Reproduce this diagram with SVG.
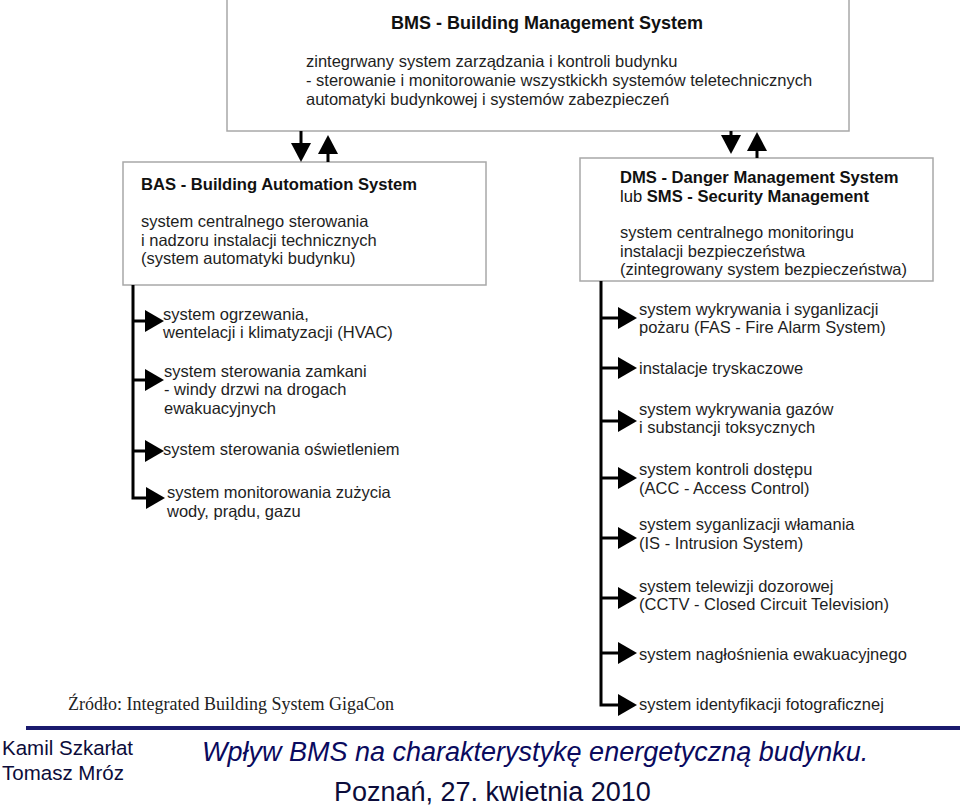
<svg xmlns="http://www.w3.org/2000/svg" width="960" height="807" viewBox="0 0 960 807">
<defs>
<style>
.box{fill:#fff;stroke:#a8a8a8;stroke-width:1.5}
.t{font-family:"Liberation Sans",Arial,sans-serif;font-size:16.5px;fill:#1e1e1e}
.b{font-family:"Liberation Sans",Arial,sans-serif;font-size:16.6px;font-weight:bold;fill:#111}
.c{fill:none;stroke:#000;stroke-width:3}
</style>
<marker id="h" markerUnits="userSpaceOnUse" markerWidth="19" markerHeight="22" refX="0" refY="11" orient="auto" viewBox="0 0 19 22">
<path d="M0,0 L19,11 L0,22 z" fill="#000"/>
</marker>
<marker id="v" markerUnits="userSpaceOnUse" markerWidth="19" markerHeight="20" refX="0" refY="10" orient="auto" viewBox="0 0 19 20">
<path d="M0,0 L19,10 L0,20 z" fill="#000"/>
</marker>
</defs>
<rect width="960" height="807" fill="#fff"/>

<g id="bms">
<rect class="box" x="227" y="-1" width="622" height="132"/>
<text class="b" x="547" y="29" text-anchor="middle" style="font-size:18px">BMS - Building Management System</text>
<text class="t" x="306" y="67">zintegrwany system zarządzania i kontroli budynku</text>
<text class="t" x="306" y="86">- sterowanie i monitorowanie wszystkickh systemów teletechnicznych</text>
<text class="t" x="306" y="105">automatyki budynkowej i systemów zabezpieczeń</text>
</g>

<g id="bas">
<rect class="box" x="123" y="162" width="363" height="123"/>
<text class="b" x="141" y="190">BAS - Building Automation System</text>
<text class="t" x="141" y="227">system centralnego sterowania</text>
<text class="t" x="141" y="246">i nadzoru instalacji technicznych</text>
<text class="t" x="141" y="264">(system automatyki budynku)</text>
</g>

<g id="dms">
<rect class="box" x="580" y="158" width="353" height="123"/>
<text class="b" x="620" y="183">DMS - Danger Management System</text>
<text class="b" x="620" y="202"><tspan style="font-weight:normal">lub </tspan>SMS - Security Management</text>
<text class="t" x="620" y="238">system centralnego monitoringu</text>
<text class="t" x="620" y="257">instalacji bezpieczeństwa</text>
<text class="t" x="620" y="275">(zintegrowany system bezpieczeństwa)</text>
</g>

<g id="connectors">
<path class="c" d="M301,131 V143" marker-end="url(#v)"/>
<path class="c" d="M328,162 V154" marker-end="url(#v)"/>
<path class="c" d="M731,131 V135" marker-end="url(#v)"/>
<path class="c" d="M757,158 V151" marker-end="url(#v)"/>

<path class="c" d="M133,285 V498 H146" marker-end="url(#h)"/>
<path class="c" d="M133,321 H145" marker-end="url(#h)"/>
<path class="c" d="M133,380 H145" marker-end="url(#h)"/>
<path class="c" d="M133,451 H145" marker-end="url(#h)"/>

<path class="c" d="M601,281 V705 H618" marker-end="url(#h)"/>
<path class="c" d="M601,318 H618" marker-end="url(#h)"/>
<path class="c" d="M601,368 H618" marker-end="url(#h)"/>
<path class="c" d="M601,421 H618" marker-end="url(#h)"/>
<path class="c" d="M601,478 H618" marker-end="url(#h)"/>
<path class="c" d="M601,538 H618" marker-end="url(#h)"/>
<path class="c" d="M601,598 H618" marker-end="url(#h)"/>
<path class="c" d="M601,653 H618" marker-end="url(#h)"/>
</g>

<g id="bas-items">
<text class="t" x="163" y="320">system ogrzewania,</text>
<text class="t" x="163" y="338">wentelacji i klimatyzacji (HVAC)</text>
<text class="t" x="164" y="377">system sterowania zamkani</text>
<text class="t" x="164" y="395">- windy drzwi na drogach</text>
<text class="t" x="164" y="414">ewakuacyjnych</text>
<text class="t" x="163" y="455">system sterowania oświetleniem</text>
<text class="t" x="167" y="498">system monitorowania zużycia</text>
<text class="t" x="167" y="517">wody, prądu, gazu</text>
</g>

<g id="dms-items">
<text class="t" x="639" y="315">system wykrywania i syganlizacji</text>
<text class="t" x="639" y="333">pożaru (FAS - Fire Alarm System)</text>
<text class="t" x="639" y="374">instalacje tryskaczowe</text>
<text class="t" x="639" y="415">system wykrywania gazów</text>
<text class="t" x="639" y="433">i substancji toksycznych</text>
<text class="t" x="639" y="475">system kontroli dostępu</text>
<text class="t" x="639" y="494">(ACC - Access Control)</text>
<text class="t" x="639" y="530">system syganlizacji włamania</text>
<text class="t" x="639" y="549">(IS - Intrusion System)</text>
<text class="t" x="639" y="592">system telewizji dozorowej</text>
<text class="t" x="639" y="610">(CCTV - Closed Circuit Television)</text>
<text class="t" x="639" y="660">system nagłośnienia ewakuacyjnego</text>
<text class="t" x="639" y="710">system identyfikacji fotograficznej</text>
</g>

<g id="footer">
<text x="68" y="710" style="font-family:'Liberation Serif','Times New Roman',serif;font-size:18px;fill:#222">Źródło: Integrated Building System GigaCon</text>
<rect x="26" y="726" width="934" height="4" fill="#1a1a6e"/>
<text x="2" y="755" style="font-family:'Liberation Sans',Arial,sans-serif;font-size:20.5px;fill:#0c0c3a">Kamil Szkarłat</text>
<text x="2" y="780" style="font-family:'Liberation Sans',Arial,sans-serif;font-size:20.5px;fill:#0c0c3a">Tomasz Mróz</text>
<text x="202" y="761" style="font-family:'Liberation Sans',Arial,sans-serif;font-size:27px;font-style:italic;fill:#0a0a5e">Wpływ BMS na charakterystykę energetyczną budynku.</text>
<text x="334" y="801" style="font-family:'Liberation Sans',Arial,sans-serif;font-size:27px;fill:#0c0c3a">Poznań, 27. kwietnia 2010</text>
</g>
</svg>
